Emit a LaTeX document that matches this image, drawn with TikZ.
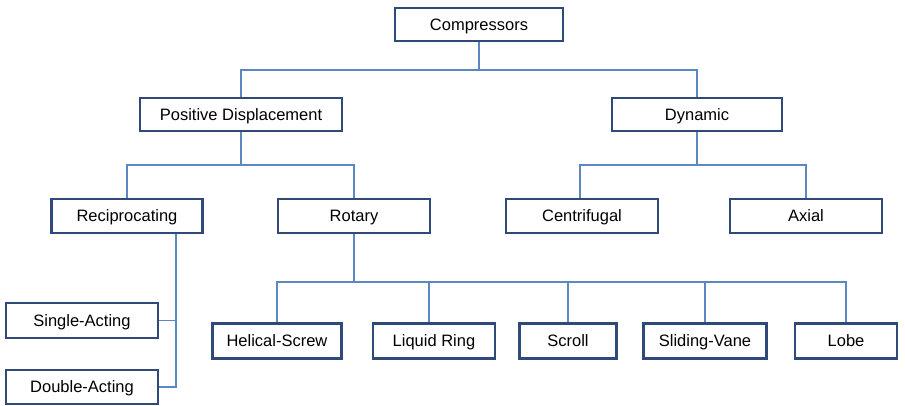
\documentclass[tikz,border=0pt]{standalone}
\usepackage{fontspec}
\setmainfont{Liberation Sans}
\definecolor{boxedge}{HTML}{2F4A78}
\definecolor{linkline}{HTML}{5B87C2}
\begin{document}
\begin{tikzpicture}[x=1pt,y=-1pt,
  box/.style={draw=boxedge,line width=2.6pt,fill=white,inner sep=0pt,
    text height=11.8pt,text depth=0pt,
    minimum height=33pt,font=\fontsize{16.5}{20}\selectfont},
  link/.style={draw=linkline,line width=1.3pt}]
\useasboundingbox (0,0) rectangle (905,406);

% nodes
\node[box,minimum width=168pt] (comp) at (479,24.5) {Compressors};
\node[box,minimum width=202pt] (pd)   at (241,114.5) {Positive Displacement};
\node[box,minimum width=170pt] (dyn)  at (697,114.5) {Dynamic};
\node[box,minimum width=151pt,minimum height=34pt] (rec) at (127,216) {Reciprocating};
\node[box,minimum width=152pt,minimum height=34pt] (rot) at (354,216) {Rotary};
\node[box,minimum width=152pt,minimum height=34pt] (cen) at (582,216) {Centrifugal};
\node[box,minimum width=152pt,minimum height=34pt] (axi) at (806,216) {Axial};
\node[box,minimum width=152pt,minimum height=35pt] (sa)  at (82,320.5) {Single-Acting};
\node[box,minimum width=152pt,minimum height=34pt] (da)  at (82,387) {Double-Acting};
\node[box,minimum width=129pt,minimum height=35pt] (hs)  at (277,341) {Helical-Screw};
\node[box,minimum width=122pt,minimum height=35pt] (lr)  at (434,341) {Liquid Ring};
\node[box,minimum width=97pt,minimum height=35pt]  (scr) at (568,341) {Scroll};
\node[box,minimum width=123pt,minimum height=35pt] (sv)  at (705,341) {Sliding-Vane};
\node[box,minimum width=102pt,minimum height=35pt] (lob) at (846,341) {Lobe};

% bus levels
\coordinate (busA) at (0,70);
\coordinate (busB) at (0,165);
\coordinate (busC) at (0,282);
\coordinate (recdrop) at ([xshift=49pt]rec.south);

% first level
\draw[link] (comp.south) -- (comp.south |- busA);
\draw[link] (pd.north) |- (busA -| dyn.north) -- (dyn.north);
% positive displacement
\draw[link] (pd.south) -- (pd.south |- busB);
\draw[link] (rec.north) |- (busB -| rot.north) -- (rot.north);
% dynamic
\draw[link] (dyn.south) -- (dyn.south |- busB);
\draw[link] ([xshift=-2pt]cen.north) |- (busB -| axi.north) -- (axi.north);
% reciprocating
\draw[link] (recdrop) -- (recdrop |- da.east) -- (da.east);
\draw[link] (sa.east) -- (sa.east -| recdrop);
% rotary
\draw[link] (rot.south) -- (rot.south |- busC);
\draw[link] (hs.north) |- (busC -| lob.north) -- (lob.north);
\draw[link] ([xshift=-5pt]lr.north) -- ([xshift=-5pt]lr.north |- busC);
\draw[link] (scr.north) -- (scr.north |- busC);
\draw[link] (sv.north) -- (sv.north |- busC);
\end{tikzpicture}
\end{document}
